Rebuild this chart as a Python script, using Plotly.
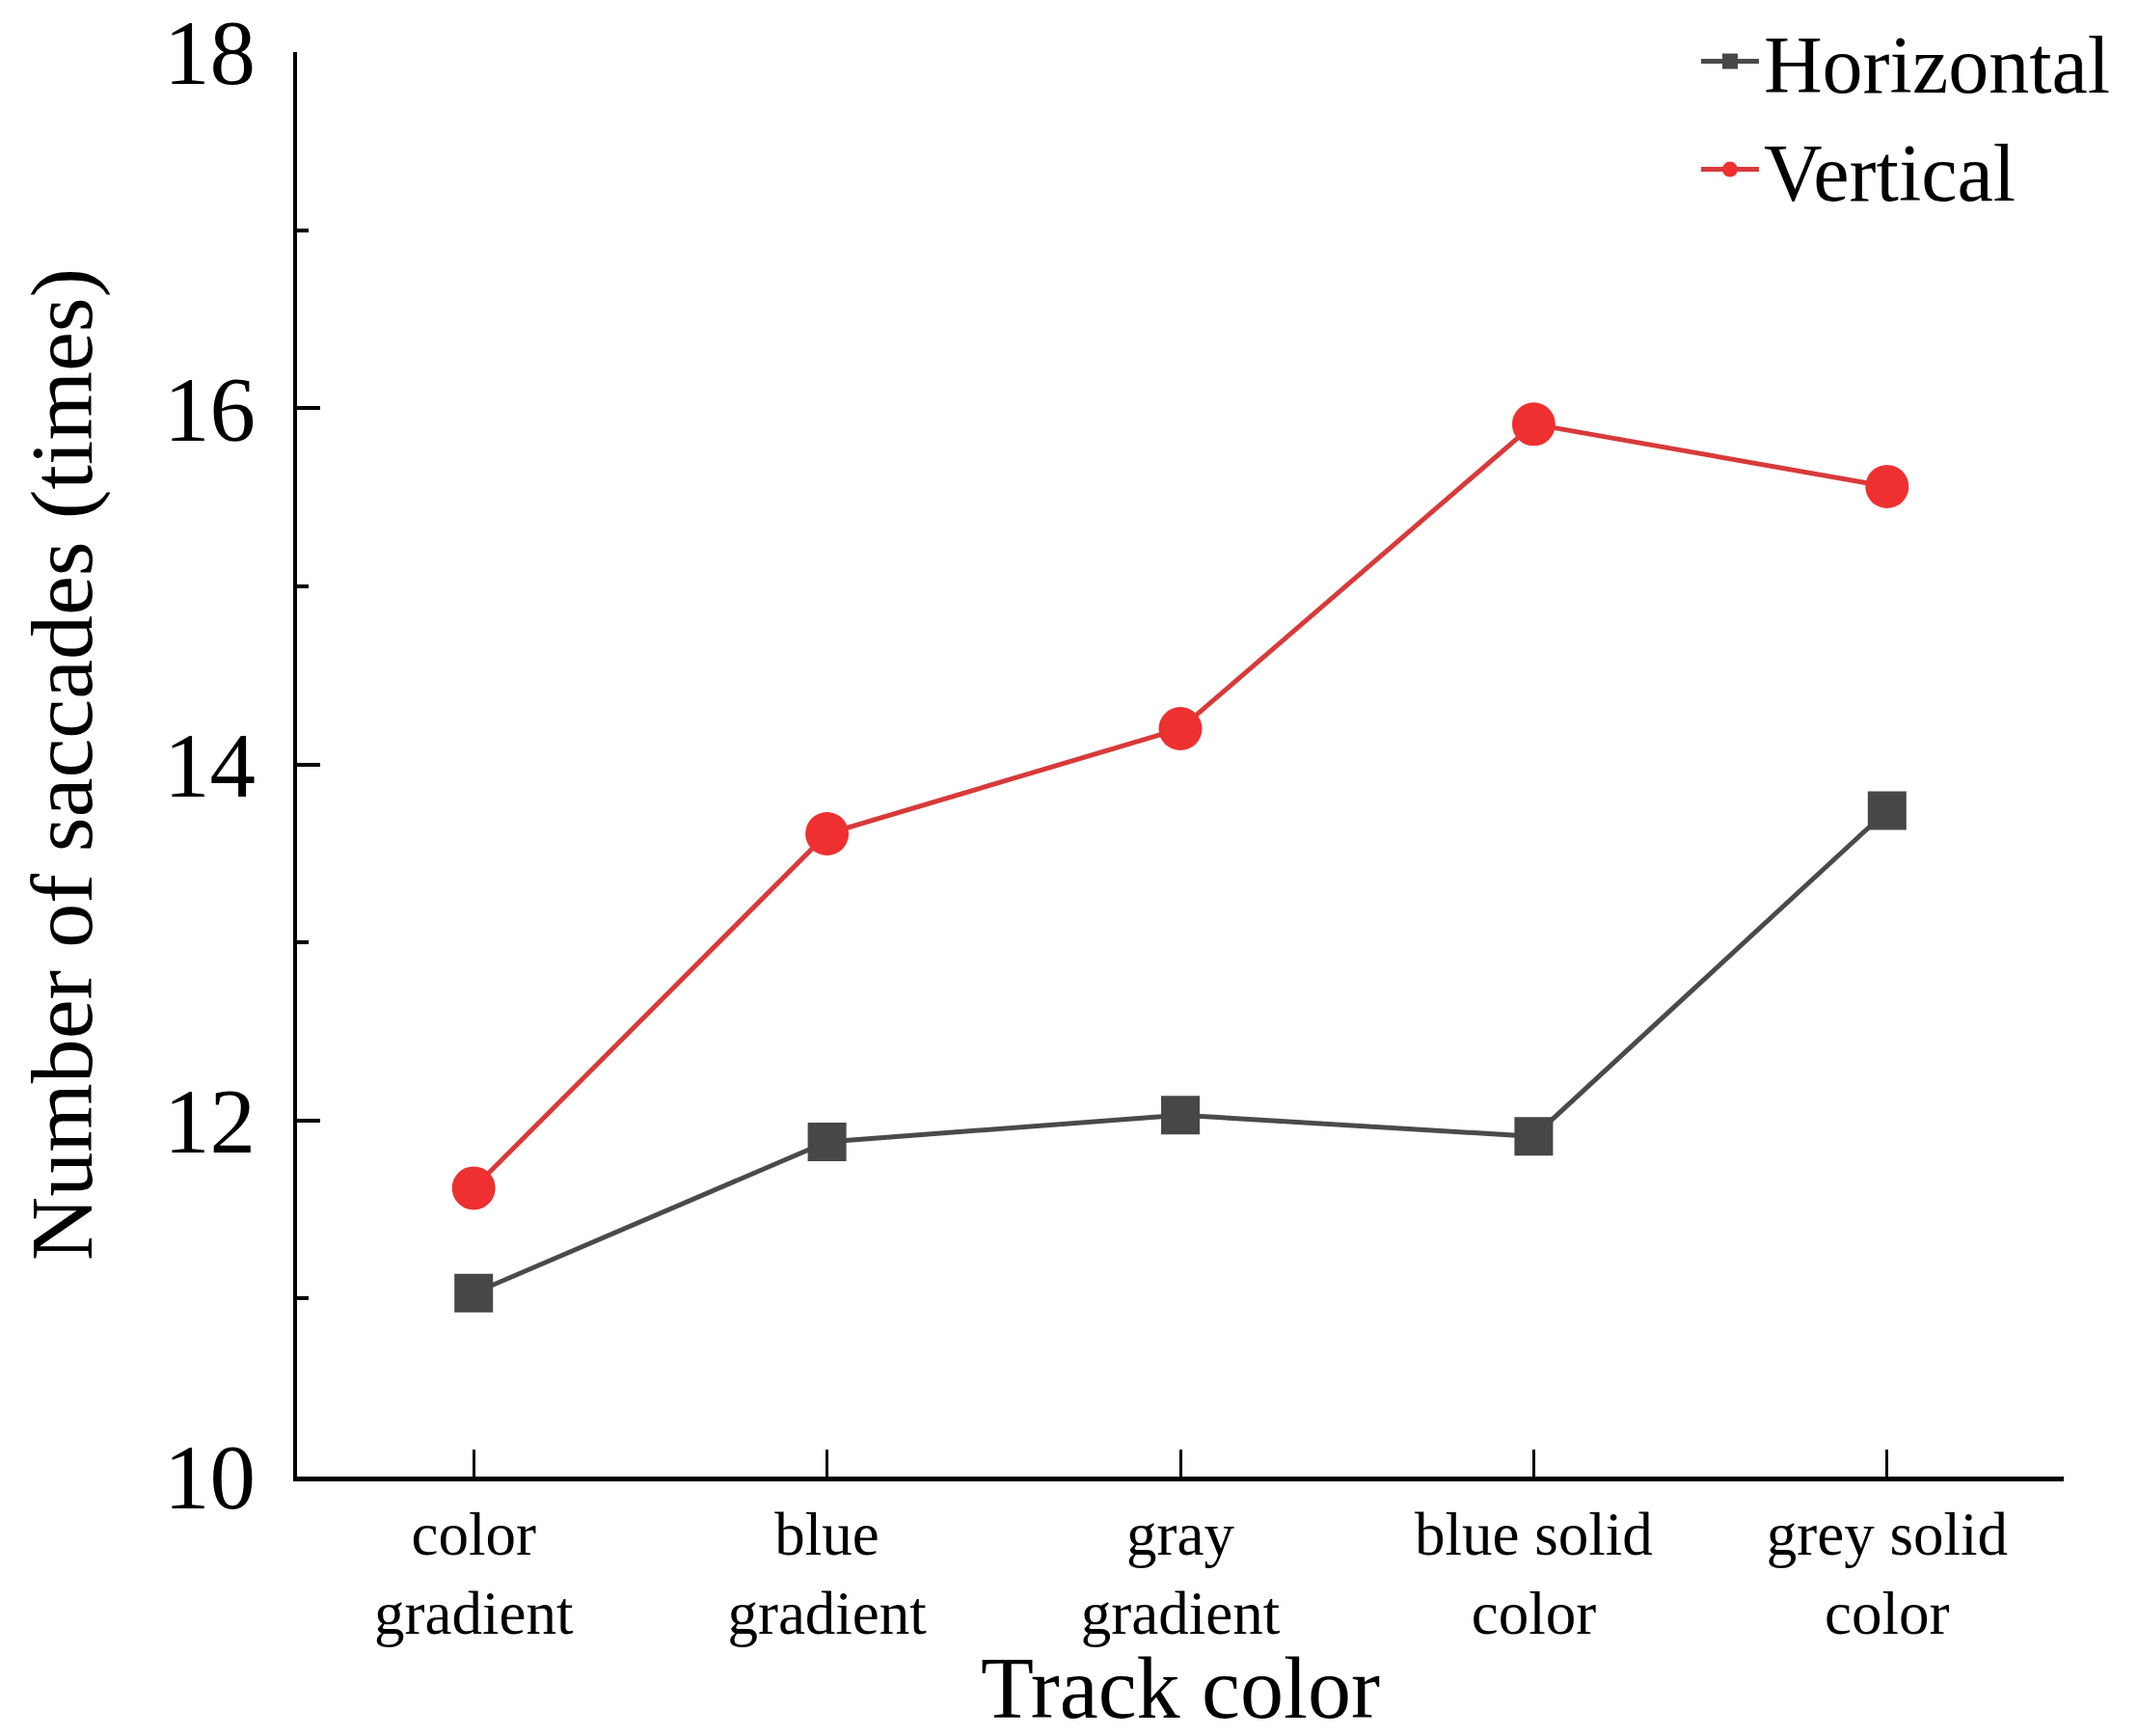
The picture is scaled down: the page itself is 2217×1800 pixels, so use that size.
import plotly.graph_objects as go

categories = ["color<br>gradient", "blue<br>gradient", "gray<br>gradient", "blue solid<br>color", "grey solid<br>color"]
horizontal = [11.03, 11.88, 12.03, 11.91, 13.74]
vertical = [11.62, 13.61, 14.20, 15.91, 15.56]
y_ticks = [10, 12, 14, 16, 18]

FONT = "Liberation Serif, Times New Roman, serif"

fig = go.Figure()
fig.add_trace(go.Scatter(
    x=categories, y=horizontal, name="Horizontal", mode="lines+markers",
    line=dict(color="#4a4a4a", width=5),
    marker=dict(symbol="square", size=40, color="#474747"),
))
fig.add_trace(go.Scatter(
    x=categories, y=vertical, name="Vertical", mode="lines+markers",
    line=dict(color="#d83a3a", width=5),
    marker=dict(symbol="circle", size=45, color="#ee3030"),
))

fig.update_layout(
    width=2209, height=1792,
    margin=dict(l=300, r=77, t=46, b=269, autoexpand=False),
    paper_bgcolor="white", plot_bgcolor="white",
    font=dict(family=FONT, color="black"),
    showlegend=True,
    legend=dict(x=0.792, y=1.035, xanchor="left", yanchor="top",
                font=dict(size=84, family=FONT, color="black"),
                bgcolor="rgba(0,0,0,0)", itemwidth=60, tracegroupgap=0),
    xaxis=dict(
        type="category", range=[-0.5, 4.5],
        showline=True, linecolor="black", linewidth=5,
        ticks="inside", ticklen=28, tickwidth=3, tickcolor="black",
        tickfont=dict(size=63, family=FONT, color="black"),
        showgrid=False, zeroline=False,
        title=dict(text="Track color", font=dict(size=90, family=FONT, color="black"), standoff=0),
    ),
    yaxis=dict(
        range=[10, 18], tickvals=y_ticks, ticktext=[str(v) for v in y_ticks],
        ticklabeloverflow="allow",
        showline=True, linecolor="black", linewidth=4,
        ticks="inside", ticklen=24, tickwidth=4, tickcolor="black",
        minor=dict(tickvals=[11, 13, 15, 17], ticks="inside", ticklen=12, tickwidth=4, tickcolor="black"),
        tickfont=dict(size=95, family=FONT, color="black"),
        ticklabelstandoff=20,
        showgrid=False, zeroline=False,
        title=dict(text="Number of saccades (times)", font=dict(size=92, family=FONT, color="black"), standoff=45),
    ),
)

fig.write_html("out.html")
